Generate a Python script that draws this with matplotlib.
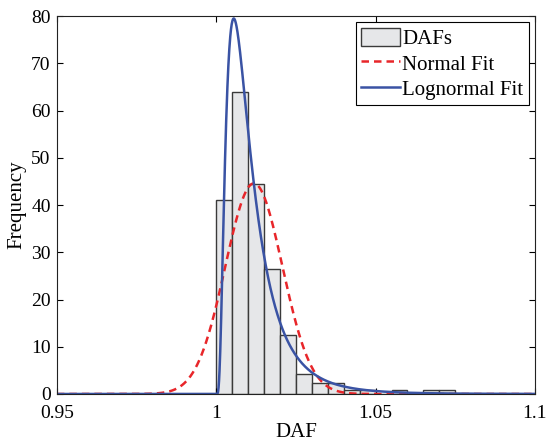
import numpy as np
import matplotlib.pyplot as plt

plt.rcParams['font.family'] = ['Liberation Serif', 'DejaVu Serif']

# Histogram data (bin edges and frequencies)
bin_edges = np.round(np.arange(1.0, 1.0751, 0.005), 4)
counts = [41, 64, 44.5, 26.5, 12.5, 4.2, 2.3, 2.3, 0.9, 0.9, 0, 0.8, 0, 0.8, 0.8]

# Fit parameters (estimated)
n_total = 200
bin_w = 0.005
norm_mu, norm_sigma = 1.0118, 0.00895
logn_shift, logn_mu, logn_sigma = 1.0, -4.70, 0.71

x = np.linspace(0.95, 1.1, 2000)
normal_fit = n_total * bin_w / (norm_sigma * np.sqrt(2 * np.pi)) * \
    np.exp(-(x - norm_mu) ** 2 / (2 * norm_sigma ** 2))
y = np.clip(x - logn_shift, 1e-12, None)
logn_fit = n_total * bin_w / (y * logn_sigma * np.sqrt(2 * np.pi)) * \
    np.exp(-(np.log(y) - logn_mu) ** 2 / (2 * logn_sigma ** 2))
logn_fit[x <= logn_shift] = 0

fig = plt.figure(figsize=(5.47, 4.41), dpi=100)
ax = fig.add_axes([0.104, 0.1066, 0.874, 0.857])

bars = ax.bar(bin_edges[:-1], counts, width=bin_w, align='edge', color='#e6e7e9',
              edgecolor='#3a3a3a', linewidth=1.0, label='DAFs')
l1, = ax.plot(x, normal_fit, '--', color='#e8262a', linewidth=1.8,
              dashes=(3, 2), label='Normal Fit')
l2, = ax.plot(x, logn_fit, '-', color='#3a53a4', linewidth=1.8,
              label='Lognormal Fit')

ax.set_xlim(0.95, 1.1)
ax.set_ylim(0, 80)
ax.set_xticks([0.95, 1.0, 1.05, 1.1])
ax.set_xticklabels(['0.95', '1', '1.05', '1.1'])
ax.set_yticks(np.arange(0, 81, 10))
ax.tick_params(direction='in', top=True, right=True, labelsize=14,
               length=4, width=0.8)
ax.tick_params(axis='x', pad=8)
ax.tick_params(axis='y', pad=4.5)
for s in ax.spines.values():
    s.set_linewidth(0.8)
    s.set_color('#222222')

ax.set_xlabel('DAF', fontsize=15, labelpad=1)
ax.set_ylabel('Frequency', fontsize=15, labelpad=3)

leg = ax.legend([bars, l1, l2], ['DAFs', 'Normal Fit', 'Lognormal Fit'],
                loc='upper right', fontsize=15, fancybox=False,
                edgecolor='black', framealpha=1, borderpad=0.25,
                handlelength=1.9, handleheight=1.0, handletextpad=0.1,
                labelspacing=0.2, borderaxespad=0.3)
leg.get_frame().set_linewidth(0.8)

plt.savefig('out.png', dpi=100)
